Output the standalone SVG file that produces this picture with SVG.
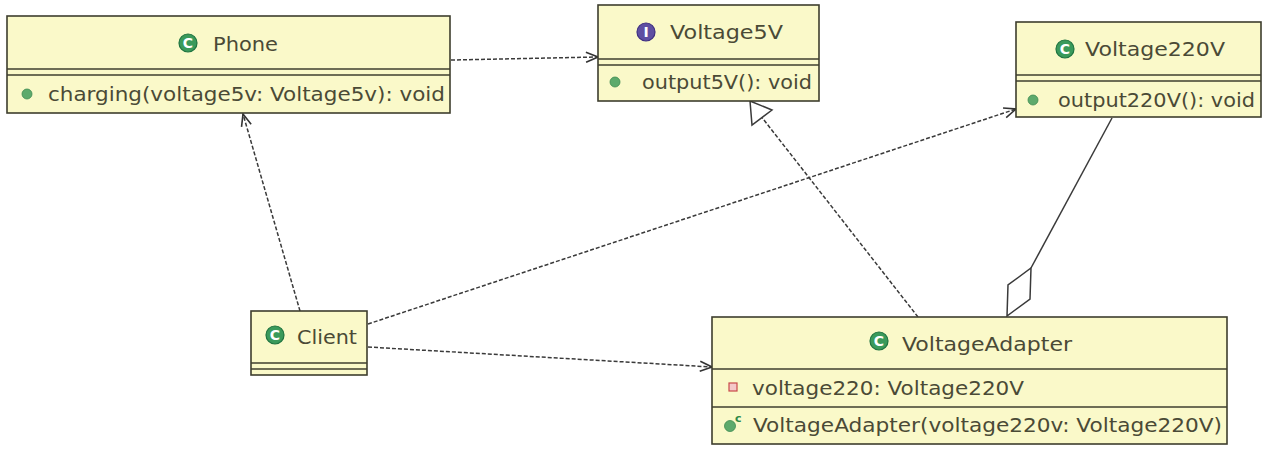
<svg xmlns="http://www.w3.org/2000/svg" width="1282" height="466" viewBox="0 0 1282 466">
<style>
.box{fill:#FAF9C9;stroke:#3E3E2E;stroke-width:1.6}
.sep{stroke:#3E3E2E;stroke-width:1.6}
.t{font-family:"DejaVu Sans","Liberation Sans",sans-serif;font-size:20px;fill:#4A4A36}
.ic{font-family:"DejaVu Sans","Liberation Sans",sans-serif;font-size:14px;font-weight:bold;fill:#fff}
.cls{fill:#3A9A5B;stroke:#1E7440;stroke-width:1.2}
.itf{fill:#5E4FA2;stroke:#3E2F82;stroke-width:1.2}
.dot{fill:#5DAA6C;stroke:#3E8A50;stroke-width:0.8}
.dash{fill:none;stroke:#3A3A3A;stroke-width:1.5;stroke-dasharray:4 2}
.solid{fill:none;stroke:#3A3A3A;stroke-width:1.5}
</style>
<defs>
<marker id="open" viewBox="0 0 14 14" refX="13" refY="7" markerWidth="14" markerHeight="14" markerUnits="userSpaceOnUse" orient="auto">
<path d="M1,2 L13,7 L1,12" fill="none" stroke="#333" stroke-width="1.6"/>
</marker>
</defs>
<rect width="1282" height="466" fill="#FFFFFF"/>

<g id="connectors">
<line id="phone-v5" class="dash" x1="451" y1="60" x2="598" y2="57" marker-end="url(#open)"/>
<line id="client-phone" class="dash" x1="300" y1="311" x2="243" y2="114" marker-end="url(#open)"/>
<line id="client-v220" class="dash" x1="368" y1="324" x2="1016" y2="109" marker-end="url(#open)"/>
<line id="client-adapter" class="dash" x1="368" y1="347" x2="712" y2="367" marker-end="url(#open)"/>
<g id="adapter-v5">
<line class="dash" x1="918" y1="317" x2="762" y2="117.5"/>
<polygon points="750,101 772,110 752,125" fill="#FFFFFF" stroke="#3A3A3A" stroke-width="1.5"/>
</g>
<g id="v220-adapter">
<line class="solid" x1="1112" y1="118" x2="1031" y2="268"/>
<polygon points="1031,268 1030,299 1007,316 1008,285" fill="#FFFFFF" stroke="#3A3A3A" stroke-width="1.5"/>
</g>
</g>

<g id="Phone">
<rect class="box" x="7" y="16" width="443" height="97"/>
<line class="sep" x1="7" y1="69" x2="450" y2="69"/>
<line class="sep" x1="7" y1="75" x2="450" y2="75"/>
<circle class="cls" cx="188" cy="43" r="9"/>
<text class="ic" x="188" y="48" text-anchor="middle">C</text>
<text class="t" x="213" y="51" textLength="65" lengthAdjust="spacingAndGlyphs">Phone</text>
<circle class="dot" cx="27" cy="94" r="5"/>
<text class="t" x="48" y="101" textLength="397" lengthAdjust="spacingAndGlyphs">charging(voltage5v: Voltage5v): void</text>
</g>

<g id="Voltage5V">
<rect class="box" x="598" y="5" width="221" height="96"/>
<line class="sep" x1="598" y1="59" x2="819" y2="59"/>
<line class="sep" x1="598" y1="65" x2="819" y2="65"/>
<circle class="itf" cx="646" cy="32" r="9"/>
<text class="ic" x="646" y="37" text-anchor="middle">I</text>
<text class="t" x="670" y="39" textLength="113" lengthAdjust="spacingAndGlyphs">Voltage5V</text>
<circle class="dot" cx="615" cy="82" r="5"/>
<text class="t" x="642" y="89" textLength="170" lengthAdjust="spacingAndGlyphs">output5V(): void</text>
</g>

<g id="Voltage220V">
<rect class="box" x="1016" y="22" width="245" height="95"/>
<line class="sep" x1="1016" y1="75" x2="1261" y2="75"/>
<line class="sep" x1="1016" y1="81" x2="1261" y2="81"/>
<circle class="cls" cx="1065" cy="49" r="9"/>
<text class="ic" x="1065" y="54" text-anchor="middle">C</text>
<text class="t" x="1085" y="56" textLength="140" lengthAdjust="spacingAndGlyphs">Voltage220V</text>
<circle class="dot" cx="1033" cy="100" r="5"/>
<text class="t" x="1058" y="107" textLength="197" lengthAdjust="spacingAndGlyphs">output220V(): void</text>
</g>

<g id="Client">
<rect class="box" x="251" y="311" width="116" height="64"/>
<line class="sep" x1="251" y1="363" x2="367" y2="363"/>
<line class="sep" x1="251" y1="369" x2="367" y2="369"/>
<circle class="cls" cx="275" cy="335" r="9"/>
<text class="ic" x="275" y="340" text-anchor="middle">C</text>
<text class="t" x="297" y="344" textLength="60" lengthAdjust="spacingAndGlyphs">Client</text>
</g>

<g id="VoltageAdapter">
<rect class="box" x="712" y="317" width="515" height="127"/>
<line class="sep" x1="712" y1="369" x2="1227" y2="369"/>
<line class="sep" x1="712" y1="407" x2="1227" y2="407"/>
<circle class="cls" cx="879" cy="341" r="9"/>
<text class="ic" x="879" y="346" text-anchor="middle">C</text>
<text class="t" x="902" y="351" textLength="170" lengthAdjust="spacingAndGlyphs">VoltageAdapter</text>
<rect x="729" y="383" width="8" height="8" fill="#F5C8C8" stroke="#C84A4A" stroke-width="1.2"/>
<text class="t" x="752" y="395" textLength="272" lengthAdjust="spacingAndGlyphs">voltage220: Voltage220V</text>
<circle class="dot" cx="730" cy="426" r="5.5"/>
<text x="735" y="422" font-family="DejaVu Sans, sans-serif" font-size="11" font-weight="bold" fill="#2E8A48">c</text>
<text class="t" x="753" y="432" textLength="469" lengthAdjust="spacingAndGlyphs">VoltageAdapter(voltage220v: Voltage220V)</text>
</g>
</svg>
